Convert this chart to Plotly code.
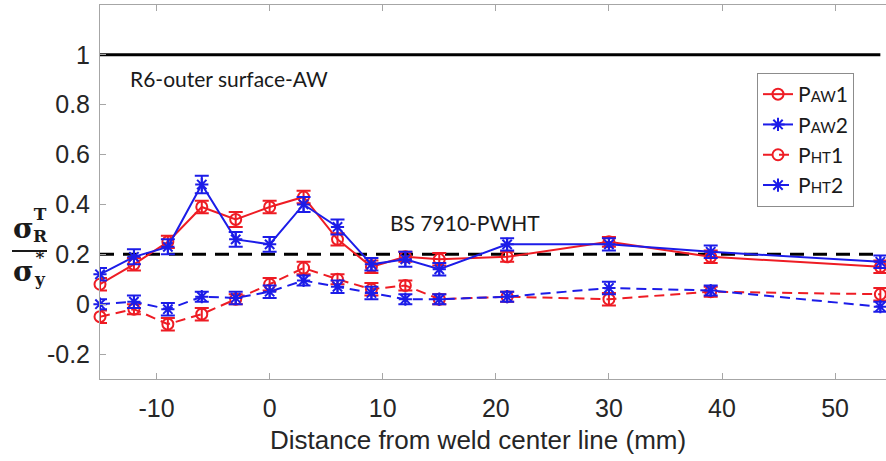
import plotly.graph_objects as go

# ---- data ----
x_pos = [-15, -12, -9, -6, -3, 0, 3, 6, 9, 12, 15, 21, 30, 39, 54]
paw1 = [0.08, 0.16, 0.25, 0.39, 0.34, 0.39, 0.43, 0.26, 0.15, 0.19, 0.18, 0.19, 0.25, 0.19, 0.15]
paw2 = [0.12, 0.19, 0.23, 0.48, 0.26, 0.24, 0.40, 0.31, 0.16, 0.18, 0.14, 0.24, 0.24, 0.21, 0.17]
pht1 = [-0.05, -0.02, -0.08, -0.04, 0.02, 0.08, 0.145, 0.10, 0.06, 0.075, 0.02, 0.03, 0.02, 0.05, 0.04]
pht2 = [0.00, 0.01, -0.02, 0.03, 0.025, 0.05, 0.095, 0.07, 0.045, 0.02, 0.02, 0.03, 0.065, 0.055, -0.01]
err_paw1 = [0.025, 0.025, 0.025, 0.025, 0.03, 0.025, 0.025, 0.025, 0.025, 0.02, 0.025, 0.02, 0.02, 0.025, 0.025]
err_paw2 = [0.025, 0.03, 0.03, 0.035, 0.03, 0.03, 0.03, 0.03, 0.025, 0.03, 0.025, 0.025, 0.025, 0.025, 0.025]
err_pht1 = [0.025, 0.02, 0.025, 0.025, 0.02, 0.025, 0.025, 0.02, 0.025, 0.02, 0.02, 0.02, 0.025, 0.02, 0.025]
err_pht2 = [0.02, 0.025, 0.025, 0.02, 0.025, 0.025, 0.02, 0.025, 0.025, 0.02, 0.02, 0.02, 0.025, 0.02, 0.02]
ref_x = [-15, 54]
limit_aw = [1, 1]
limit_pwht = [0.2, 0.2]
y_ticks = [-0.2, 0, 0.2, 0.4, 0.6, 0.8, 1]
y_ticktext = ["-0.2", "0", "0.2", "0.4", "0.6", "0.8", "1"]
x_ticks = [-10, 0, 10, 20, 30, 40, 50]
x_ticktext = ["-10", "0", "10", "20", "30", "40", "50"]

RED = "#ee1c24"
BLUE = "#1c1ce8"

W, H = 886, 461
ML, MR, MT, MB = 100, 0, 5, 82

def px(x):
    return (x - ML) / (W - ML - MR)

def py(y):
    return (H - MB - y) / (H - MB - MT)

fig = go.Figure()

fig.add_trace(go.Scatter(x=ref_x, y=limit_aw, mode="lines",
                         line=dict(color="black", width=3), showlegend=False, hoverinfo="skip"))
fig.add_trace(go.Scatter(x=ref_x, y=limit_pwht, mode="lines",
                         line=dict(color="black", width=3, dash="14px,9px"), showlegend=False, hoverinfo="skip"))

def leg(sub, n):
    return "P<span style='font-size:15px'>" + sub + "</span>" + n

series = [
    (paw1, err_paw1, RED, "circle-open", "solid", leg("AW", "1")),
    (paw2, err_paw2, BLUE, "asterisk-open", "solid", leg("AW", "2")),
    (pht1, err_pht1, RED, "circle-open", "dash", leg("HT", "1")),
    (pht2, err_pht2, BLUE, "asterisk-open", "dash", leg("HT", "2")),
]
for yv, ev, col, sym, dash, name in series:
    fig.add_trace(go.Scatter(
        x=x_pos, y=yv, name=name, mode="lines+markers",
        line=dict(color=col, width=2, dash=("10px,6px" if dash == "dash" else "solid")),
        marker=dict(symbol=sym, size=11, color=col, line=dict(color=col, width=2)),
        error_y=dict(type="data", array=ev, visible=True, color=col, thickness=2, width=7),
        cliponaxis=False,
    ))

tick_font = dict(family="Liberation Sans", size=25, color="#262626")
axis_common = dict(showline=True, linecolor="#a6a6a6", linewidth=1,
                   ticks="inside", ticklen=6, tickcolor="#a6a6a6", showgrid=False, zeroline=False,
                   tickfont=tick_font)

fig.update_layout(
    width=W, height=H,
    margin=dict(l=ML, r=MR, t=MT, b=MB),
    paper_bgcolor="white", plot_bgcolor="white",
    xaxis=dict(range=[-15, 54.5], tickvals=x_ticks, ticktext=x_ticktext, ticklabelstandoff=7,
               mirror="ticks", **axis_common),
    yaxis=dict(range=[-0.3, 1.2], tickvals=y_ticks, ticktext=y_ticktext, ticklabelstandoff=4,
               mirror=False, **axis_common),
    legend=dict(x=px(757), y=py(73), xanchor="left", yanchor="top",
                bordercolor="#8c8c8c", borderwidth=1, bgcolor="white",
                font=dict(family="Lato, Liberation Sans", size=21, color="#1a1a1a"),
                itemwidth=30, tracegroupgap=0),
    showlegend=True,
)

# x-axis title
fig.add_annotation(text="Distance from weld center line (mm)", xref="paper", yref="paper",
                   x=px(478), y=py(440), xanchor="center", yanchor="middle", showarrow=False,
                   font=dict(family="Liberation Sans", size=26, color="#262626"))

ann_font = dict(family="Lato, Open Sans", size=21, color="#1a1a1a")
fig.add_annotation(text="R6-outer surface-AW", xref="paper", yref="paper", x=px(128), y=py(78),
                   xanchor="left", yanchor="middle", showarrow=False, font=ann_font)
fig.add_annotation(text="BS 7910-PWHT", xref="paper", yref="paper", x=px(388), y=py(222),
                   xanchor="left", yanchor="middle", showarrow=False, font=ann_font)

# y-axis label as a stacked fraction
sf = dict(family="DejaVu Serif, Liberation Serif", color="#1a1a1a")
def lab(t, x, y, size):
    fig.add_annotation(text=t, xref="paper", yref="paper", x=px(x), y=py(y),
                       xanchor="center", yanchor="middle", showarrow=False,
                       font=dict(size=size, **sf))
lab("<b>σ</b>", 23, 229, 28)
lab("<b>T</b><br><b>R</b>", 40, 225, 17)
lab("<b>σ</b>", 23, 271, 28)
lab("<b>*</b><br><b>y</b>", 40, 268, 17)
fig.add_shape(type="line", xref="paper", yref="paper", x0=px(12), x1=px(47), y0=py(251), y1=py(251),
              line=dict(color="#1a1a1a", width=2))

fig.write_html("out.html")
